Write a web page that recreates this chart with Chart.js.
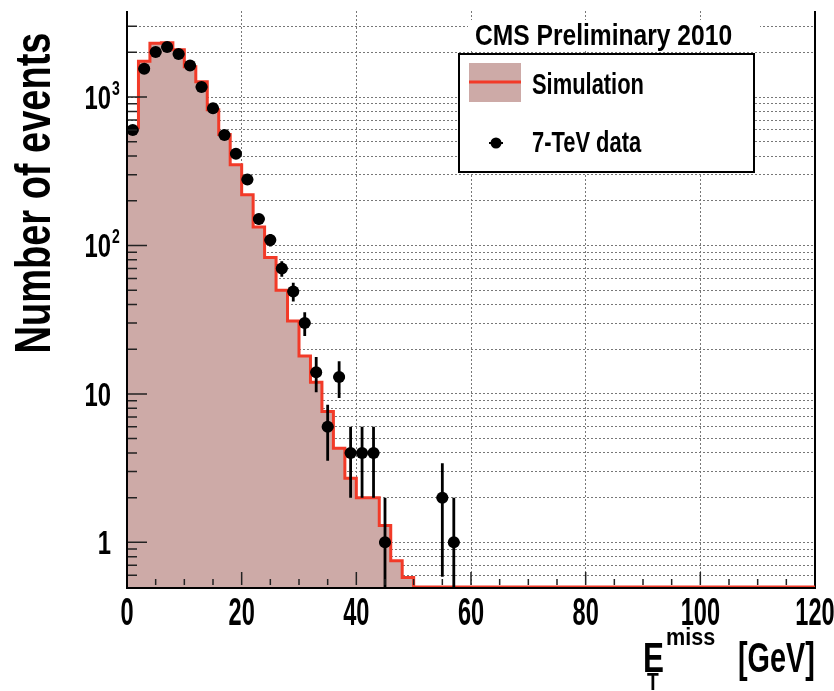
<!DOCTYPE html>
<html>
<head>
<meta charset="utf-8">
<script src="https://cdn.jsdelivr.net/npm/chart.js@4.4.1/dist/chart.umd.min.js"></script>
<style>
  html, body { margin: 0; padding: 0; background: #fff; }
  #wrap { width: 834px; height: 691px; }
</style>
</head>
<body>
<div id="wrap"><canvas id="metChart" width="834" height="691"></canvas></div>
<script>
// Missing transverse energy, 2 GeV bins, log y
const BIN_WIDTH = 2;
const X_MIN = 0, X_MAX = 120;
const Y_MIN = 0.5, Y_MAX = 3800;

// simulation (normalised), one value per bin from 0 to 120 GeV
const mcCounts = [
  620, 1740, 2300, 2320, 2080, 1600, 1270, 820, 560, 350,
  220, 133, 83, 50, 31, 18, 12, 7.6, 4.3, 2.7,
  2.0, 2.0, 1.3, 0.75, 0.58, 0, 0, 0, 0, 0,
  0, 0, 0, 0, 0, 0, 0, 0, 0, 0,
  0, 0, 0, 0, 0, 0, 0, 0, 0, 0,
  0, 0, 0, 0, 0, 0, 0, 0, 0, 0
];

// 7 TeV data: bin centres (GeV) and event counts
const dataMet = [1, 3, 5, 7, 9, 11, 13, 15, 17, 19, 21, 23, 25, 27, 29, 31, 33, 35, 37, 39, 41, 43, 45, 55, 57];
const dataCounts = [600, 1550, 2010, 2170, 1950, 1630, 1170, 840, 555, 415, 278, 151, 109, 70, 49, 30, 14, 6, 13, 4, 4, 4, 1, 2, 1];

const xTickValues = [0, 20, 40, 60, 80, 100, 120];
const xTickLabels = ["0", "20", "40", "60", "80", "100", "120"];
const yTickValues = [1, 10, 100, 1000];
const yTickLabels = [["1", ""], ["10", ""], ["10", "2"], ["10", "3"]];

const FILL = "rgb(205,170,167)";
const RED = "rgb(242,58,40)";
const FONT = "'Liberation Sans', Arial, sans-serif";

// log grid: 1..9 per decade inside the range
const yGrid = [];
for (let dec = 0.1; dec <= 1000; dec *= 10) {
  for (let m = 1; m <= 9; m++) {
    const v = +(m * dec).toPrecision(3);
    if (v > Y_MIN && v < Y_MAX) yGrid.push(v);
  }
}

// histogram outline: both edges of every bin
const mcLine = [];
mcCounts.forEach((v, i) => {
  const lo = X_MIN + i * BIN_WIDTH;
  const y = Math.max(v, Y_MIN);
  mcLine.push({ x: lo, y }, { x: lo + BIN_WIDTH, y });
});

const dataPoints = dataMet.map((x, i) => ({ x, y: dataCounts[i] }));

function squeezed(ctx, text, x, y, size, align, sx) {
  ctx.save();
  ctx.font = `bold ${size}px ${FONT}`;
  ctx.translate(x, y);
  ctx.scale(sx, 1);
  ctx.textAlign = align;
  ctx.textBaseline = "alphabetic";
  ctx.fillStyle = "#000";
  ctx.fillText(text, 0, 0);
  ctx.restore();
}

const rootFrame = {
  id: "rootFrame",
  beforeDatasetsDraw(chart) {
    // frame goes under the histogram so the red baseline stays on top
    const { ctx, chartArea: a } = chart;
    ctx.save();
    ctx.strokeStyle = "#000";
    ctx.lineWidth = 2;
    ctx.beginPath();
    ctx.moveTo(a.left, a.top); ctx.lineTo(a.left, a.bottom + 1);
    ctx.lineTo(a.right, a.bottom + 1); ctx.lineTo(a.right, a.top);
    ctx.stroke();
    ctx.restore();
  },
  afterDatasetsDraw(chart) {
    const { ctx, chartArea: a, scales: { x, y } } = chart;
    ctx.save();
    ctx.beginPath();
    ctx.rect(a.left, a.top, a.right - a.left, a.bottom - a.top);
    ctx.clip();
    ctx.strokeStyle = "#000";
    ctx.lineWidth = 2.8;
    dataPoints.forEach(p => {
      const err = Math.sqrt(p.y);
      const px = x.getPixelForValue(p.x);
      const top = y.getPixelForValue(p.y + err);
      const lo = p.y - err;
      const bot = lo > Y_MIN ? y.getPixelForValue(lo) : a.bottom;
      const py = y.getPixelForValue(p.y);
      ctx.beginPath();
      ctx.moveTo(px, top); ctx.lineTo(px, bot);
      ctx.moveTo(x.getPixelForValue(p.x - BIN_WIDTH / 2), py);
      ctx.lineTo(x.getPixelForValue(p.x + BIN_WIDTH / 2), py);
      ctx.stroke();
    });
    ctx.restore();
  },
  afterDraw(chart) {
    const { ctx, chartArea: a, scales: { x, y } } = chart;
    ctx.save();

    // tick marks inside the frame
    ctx.strokeStyle = "#222";
    ctx.lineWidth = 1.5;
    ctx.beginPath();
    for (let v = 5; v < X_MAX; v += 5) {
      const px = x.getPixelForValue(v);
      const len = v % 20 === 0 ? 15 : 8;
      ctx.moveTo(px, a.bottom - 2); ctx.lineTo(px, a.bottom - len);
    }
    yGrid.forEach(v => {
      const py = y.getPixelForValue(v);
      const len = yTickValues.includes(v) ? 20 : 10;
      ctx.moveTo(a.left, py); ctx.lineTo(a.left + len, py);
    });
    ctx.stroke();

    // left edge redrawn over the fill
    ctx.strokeStyle = "#000";
    ctx.lineWidth = 2;
    ctx.beginPath();
    ctx.moveTo(a.left, a.top); ctx.lineTo(a.left, a.bottom + 2);
    ctx.stroke();

    // tick labels
    xTickValues.forEach((v, i) => {
      squeezed(ctx, xTickLabels[i], x.getPixelForValue(v), 625, 38, "center", 0.62);
    });
    yTickValues.forEach((v, i) => {
      const py = y.getPixelForValue(v);
      const [base, exp] = yTickLabels[i];
      squeezed(ctx, base, 111, py + 12, 34, "right", 0.7);
      if (exp) squeezed(ctx, exp, 112, py - 2, 20, "left", 0.7);
    });

    // axis titles
    ctx.save();
    ctx.translate(50, 193);
    ctx.rotate(-Math.PI / 2);
    ctx.scale(1, 1.3);
    ctx.font = `bold 38px ${FONT}`;
    ctx.textAlign = "center";
    ctx.textBaseline = "alphabetic";
    ctx.fillStyle = "#000";
    ctx.fillText("Number of events", 0, 0);
    ctx.restore();

    squeezed(ctx, "E", 643, 672, 43, "left", 0.73);
    squeezed(ctx, "miss", 666, 645, 24, "left", 0.9);
    squeezed(ctx, "T", 647, 690, 24, "left", 0.8);
    squeezed(ctx, "[GeV]", 738, 672, 43, "left", 0.67);

    // label pave
    ctx.fillStyle = "#fff";
    ctx.fillRect(468, 20, 292, 30);
    squeezed(ctx, "CMS Preliminary 2010", 475, 45, 30, "left", 0.82);

    // legend
    ctx.fillStyle = "#fff";
    ctx.fillRect(459, 54, 295, 118);
    ctx.strokeStyle = "#000";
    ctx.lineWidth = 2;
    ctx.strokeRect(459, 54, 295, 118);
    ctx.fillStyle = FILL;
    ctx.fillRect(469, 63, 52, 39);
    ctx.strokeStyle = RED;
    ctx.lineWidth = 3;
    ctx.beginPath();
    ctx.moveTo(469, 82); ctx.lineTo(521, 82);
    ctx.stroke();
    squeezed(ctx, "Simulation", 532, 94, 30, "left", 0.73);

    ctx.strokeStyle = "#000";
    ctx.lineWidth = 2;
    ctx.beginPath();
    ctx.moveTo(489, 143); ctx.lineTo(503, 143);
    ctx.stroke();
    ctx.fillStyle = "#000";
    ctx.beginPath();
    ctx.arc(496, 143, 5.5, 0, Math.PI * 2);
    ctx.fill();
    squeezed(ctx, "7-TeV data", 532, 152, 30, "left", 0.73);

    ctx.restore();
  }
};

new Chart(document.getElementById("metChart").getContext("2d"), {
  type: "line",
  data: {
    datasets: [
      {
        type: "scatter",
        label: "7-TeV data",
        data: dataPoints,
        pointRadius: 6,
        pointHoverRadius: 6,
        pointBackgroundColor: "#000",
        pointBorderColor: "#000",
        pointBorderWidth: 0,
        showLine: false,
        order: 0
      },
      {
        label: "Simulation",
        data: mcLine,
        borderColor: RED,
        borderWidth: 3,
        backgroundColor: FILL,
        fill: "start",
        pointRadius: 0,
        tension: 0,
        order: 1
      }
    ]
  },
  options: {
    responsive: false,
    animation: false,
    devicePixelRatio: 1,
    layout: { autoPadding: false, padding: { left: 127, right: 19, top: 11, bottom: 104 } },
    plugins: { legend: { display: false }, tooltip: { enabled: false } },
    scales: {
      x: {
        type: "linear",
        min: X_MIN,
        max: X_MAX,
        ticks: { display: false, stepSize: 20 },
        grid: { color: "#777", lineWidth: 1, drawTicks: false },
        border: { display: false, dash: [2, 2] },
        afterFit: (s) => { s.height = 0; }
      },
      y: {
        type: "logarithmic",
        min: Y_MIN,
        max: Y_MAX,
        ticks: { display: false },
        grid: { color: "#777", lineWidth: 1, drawTicks: false },
        border: { display: false, dash: [2, 2] },
        afterBuildTicks: (s) => { s.ticks = yGrid.map(v => ({ value: v })); },
        afterFit: (s) => { s.width = 0; }
      }
    }
  },
  plugins: [rootFrame]
});
</script>
</body>
</html>
